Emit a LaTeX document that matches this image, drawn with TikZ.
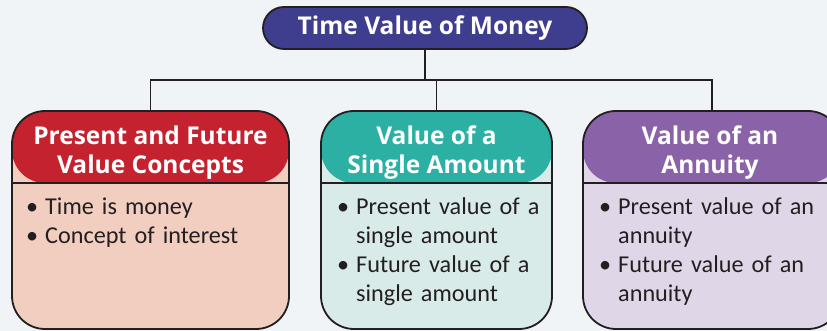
\documentclass[tikz,border=0pt]{standalone}
\usepackage{fontspec}
\setmainfont{Carlito}
\newfontfamily\headfont{Open Sans}[BoldFont={Open Sans Bold}]
\definecolor{bgc}{HTML}{F1F4F7}
\definecolor{bordc}{HTML}{231F20}
\definecolor{topc}{HTML}{3F3D8D}
\definecolor{redh}{HTML}{C3222E}
\definecolor{redb}{HTML}{F2CEC0}
\definecolor{teah}{HTML}{2BB0A3}
\definecolor{teab}{HTML}{D8EBE8}
\definecolor{purh}{HTML}{8962A8}
\definecolor{purb}{HTML}{DFD7E8}
\newcommand\bitem[1]{\noindent\hangindent=19pt\hangafter=1\makebox[19pt][l]{\textbullet}#1\par}
\newcommand\nl{\hfil\break}
\tikzset{
  conn/.style={draw=bordc, line width=1.8pt},
  topbox/.style={draw=bordc, line width=1.8pt, fill=topc, rounded corners=21pt,
    minimum width=324pt, minimum height=42pt, inner sep=0pt,
    text=white, font=\headfont\bfseries\fontsize{24.5}{29}\selectfont},
  catbox/.style n args={3}{draw=bordc, line width=1.8pt, fill=#2, rounded corners=33pt,
    minimum width=#3, minimum height=218pt, inner sep=0pt,
    path picture={\fill[#1] (path picture bounding box.north west) rectangle ([yshift=-72pt]path picture bounding box.north east);
      \draw[bordc, line width=1.8pt] ([yshift=-72pt]path picture bounding box.north west) -- ([yshift=-72pt]path picture bounding box.north east);}},
  headtext/.style={text=white, align=center, inner sep=0pt, font=\headfont\bfseries\fontsize{24.5}{29}\selectfont},
  bodytext/.style={text=bordc, align=left, inner sep=0pt, anchor=north west, font=\fontsize{24.2}{29}\selectfont}
}
\begin{document}
\begin{tikzpicture}[x=1pt,y=1pt]
\fill[bgc] (0,0) rectangle (827,331);
\useasboundingbox (0,0) rectangle (827,331);
\node[topbox] (T) at (425,303) {Time Value of Money};
\node[catbox={redh}{redb}{277pt}] (L) at (150.5,111) {};
\node[catbox={teah}{teab}{231pt}] (M) at (436.5,111) {};
\node[catbox={purh}{purb}{258pt}] (R) at (712,111) {};
\coordinate (bus) at (425,251);
\draw[conn] (T.south) -- (bus);
\draw[conn] (L.north) |- (bus);
\draw[conn] (R.north) |- (bus);
\draw[conn] (M.north) -- (M.north |- bus);
\node[headtext] (Lh) at (150.5,178.5) {Present and Future\\Value Concepts};
\node[headtext] (Mh) at (436.5,178.5) {Value of a\\Single Amount};
\node[headtext] (Rh) at (710,178.5) {Value of an\\Annuity};
\node[bodytext, text width=250pt] (Lb) at (26,133) {\bitem{Time is money}\bitem{Concept of interest}};
\node[bodytext, text width=210pt] (Mb) at (337,133) {\bitem{Present value of a\nl single amount}\bitem{Future value of a\nl single amount}};
\node[bodytext, text width=220pt] (Rb) at (599,133) {\bitem{Present value of an\nl annuity}\bitem{Future value of an\nl annuity}};
\end{tikzpicture}
\end{document}
